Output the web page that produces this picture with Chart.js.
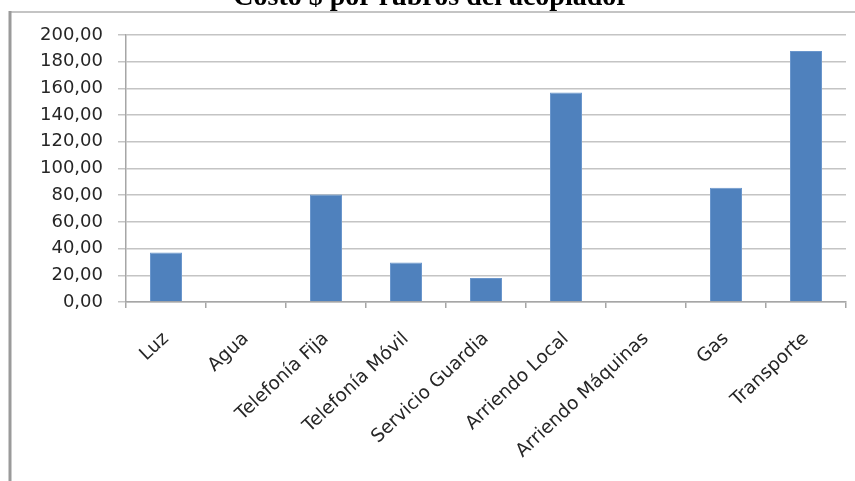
<!DOCTYPE html>
<html>
<head>
<meta charset="utf-8">
<script src="https://cdn.jsdelivr.net/npm/chart.js@4"></script>
<style>
  html, body { margin: 0; padding: 0; background: #fff; }
</style>
</head>
<body>
<canvas id="costos" width="855" height="481"></canvas>
<script>
'use strict';

// rubros del acopiador y su costo
const rubros = ['Luz', 'Agua', 'Telefonía Fija', 'Telefonía Móvil', 'Servicio Guardia',
                'Arriendo Local', 'Arriendo Máquinas', 'Gas', 'Transporte'];
const costos = [37, 0, 80.5, 29.5, 18, 157, 0, 85.5, 188];
const titulo = 'Costo $ por rubros del acopiador';
const yMax = 200;
const yPaso = 20;

const yFont = { family: 'DejaVu Sans', size: 18 };
const xFont = { family: 'DejaVu Sans', size: 18.5 };

// marco del grafico + titulo (cortado arriba)
const marco = {
    id: 'marco',
    beforeDraw(chart) {
        const ctx = chart.ctx;
        ctx.save();
        ctx.strokeStyle = '#c4c4c4';
        ctx.lineWidth = 2;
        ctx.beginPath();
        ctx.moveTo(9, 12);
        ctx.lineTo(855, 12);
        ctx.stroke();
        ctx.strokeStyle = '#9a9a9a';
        ctx.lineWidth = 3;
        ctx.beginPath();
        ctx.moveTo(10, 11);
        ctx.lineTo(10, 481);
        ctx.stroke();
        ctx.restore();
    },
    afterDraw(chart) {
        const ctx = chart.ctx;
        ctx.save();
        ctx.fillStyle = '#000';
        ctx.font = 'bold 28px "Liberation Serif"';
        ctx.textAlign = 'center';
        ctx.textBaseline = 'alphabetic';
        ctx.fillText(titulo, 431, 5);
        ctx.restore();
    }
};

new Chart(document.getElementById('costos'), {
    type: 'bar',
    data: {
        labels: rubros,
        datasets: [{
            label: 'Costo',
            data: costos,
            backgroundColor: '#4f81bd',
            borderColor: '#6a96cc',
            borderWidth: 1,
            barPercentage: 0.4,
            categoryPercentage: 1
        }]
    },
    options: {
        responsive: false,
        animation: false,
        layout: { padding: { top: 35, right: 9, left: 0, bottom: 0 } },
        plugins: {
            legend: { display: false },
            tooltip: { enabled: false }
        },
        scales: {
            x: {
                afterFit(scale) { scale.height = 179; },
                border: { display: true, color: '#a6a6a6', width: 1.5 },
                grid: {
                    offset: true,
                    drawOnChartArea: false,
                    drawTicks: true,
                    tickLength: 6,
                    color: '#a6a6a6',
                    lineWidth: 1.5
                },
                ticks: {
                    minRotation: 43,
                    maxRotation: 43,
                    autoSkip: false,
                    padding: 20,
                    color: '#262626',
                    font: xFont
                }
            },
            y: {
                min: 0,
                max: yMax,
                afterFit(scale) { scale.width = 126; },
                border: { display: true, color: '#a6a6a6', width: 1.5 },
                grid: {
                    color: '#c4c4c4',
                    lineWidth: 1.5,
                    tickLength: 8
                },
                ticks: {
                    stepSize: yPaso,
                    padding: 15,
                    color: '#262626',
                    font: yFont,
                    callback: (v) => v.toFixed(2).replace('.', ',')
                }
            }
        }
    },
    plugins: [marco]
});
</script>
</body>
</html>
